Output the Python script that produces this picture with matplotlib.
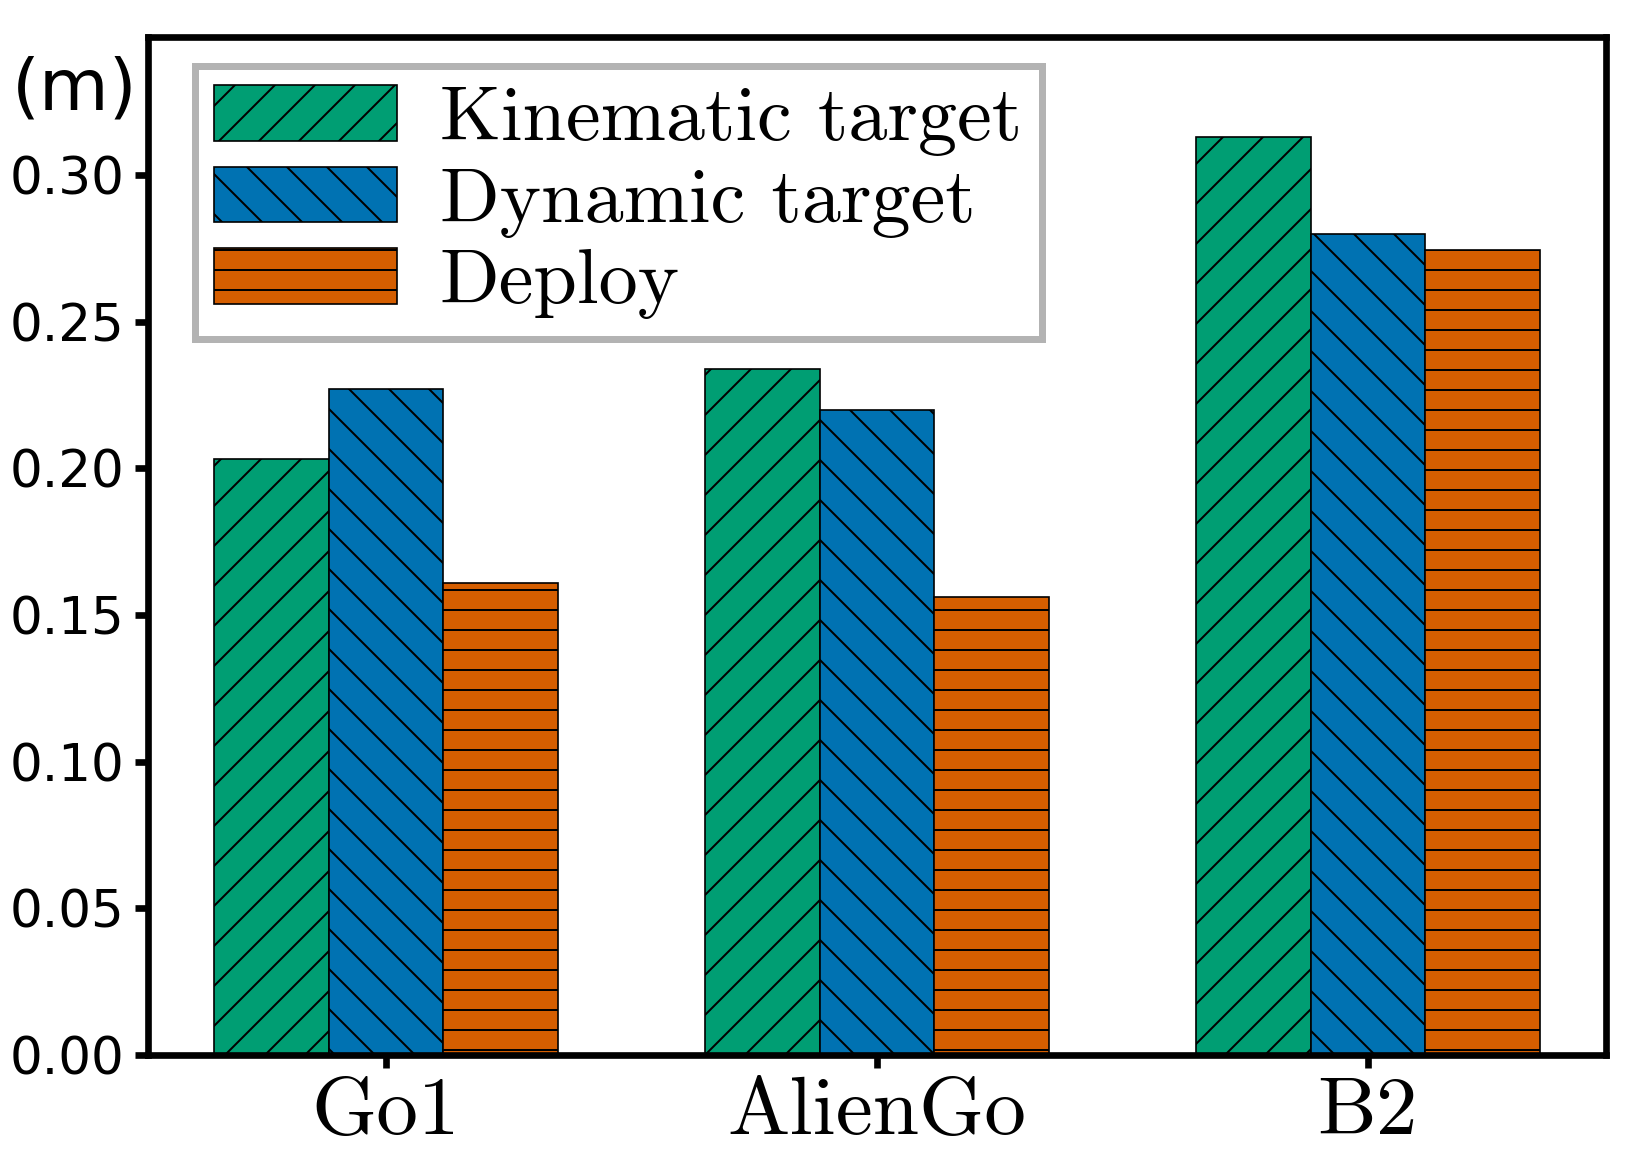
import numpy as np
import matplotlib
matplotlib.use('Agg')
import matplotlib.pyplot as plt

robots = ['Go1', 'AlienGo', 'B2']
kinematic = [0.203, 0.234, 0.313]
dynamic = [0.227, 0.220, 0.280]
deploy = [0.161, 0.156, 0.2745]
series_names = ['Kinematic target', 'Dynamic target', 'Deploy']

plt.rcParams['hatch.linewidth'] = 1.2

fig = plt.figure(figsize=(13.6, 1154 / 120), dpi=120)
ax = fig.add_axes([148 / 1632, 99 / 1154, 1458 / 1632, 1018 / 1154])

x = np.arange(len(robots))
w = 0.7 / 3
ax.bar(x - w, kinematic, w, color='#009E73', edgecolor='black', linewidth=1.0,
       hatch='/', label=series_names[0])
ax.bar(x, dynamic, w, color='#0072B2', edgecolor='black', linewidth=1.0,
       hatch='\\', label=series_names[1])
ax.bar(x + w, deploy, w, color='#D55E00', edgecolor='black', linewidth=1.0,
       hatch='-', label=series_names[2])

ax.set_ylim(0, 0.347)
ax.set_yticks([0.0, 0.05, 0.10, 0.15, 0.20, 0.25, 0.30])
ax.set_yticklabels(['0.00', '0.05', '0.10', '0.15', '0.20', '0.25', '0.30'])
ax.set_xticks(x)
ax.set_xticklabels(robots, fontfamily='cmr10', fontsize=50)

for s in ax.spines.values():
    s.set_linewidth(4)
ax.tick_params(axis='y', labelsize=31, length=8, width=4, pad=6)
ax.tick_params(axis='x', length=8, width=4, pad=5)

ax.text(-0.05, 0.948, '(m)', transform=ax.transAxes, fontsize=43,
        ha='center', va='center')

leg = ax.legend(loc='upper left', bbox_to_anchor=(0.032, 0.972), borderaxespad=0,
                prop={'family': 'cmr10', 'size': 47}, fancybox=False,
                handlelength=2.33, handleheight=0.72, handletextpad=0.55,
                labelspacing=0.13, borderpad=0.25, framealpha=1)
leg.get_frame().set_edgecolor('#b3b3b3')
leg.get_frame().set_linewidth(4.2)

fig.savefig('out.png', dpi=120)
